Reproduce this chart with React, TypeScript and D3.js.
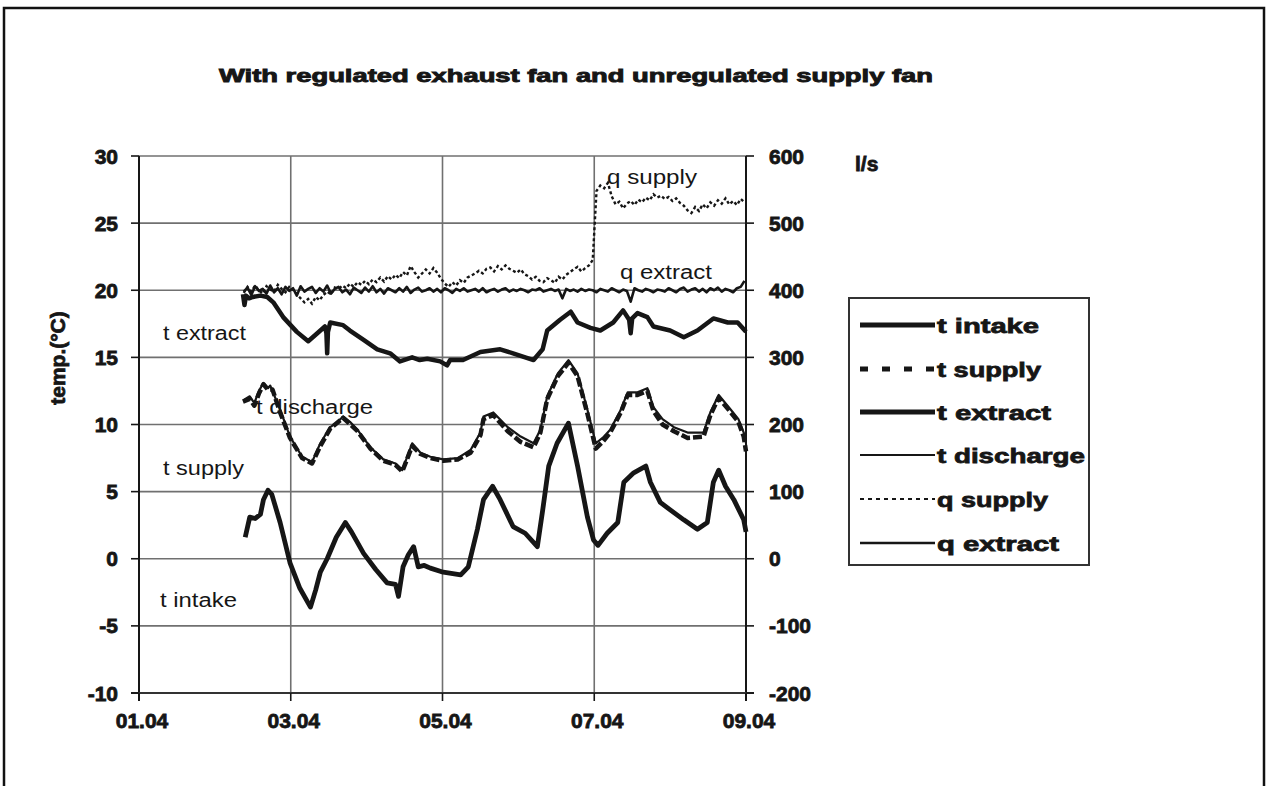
import React from "react";
import * as d3 from "d3";

// ---------- data ----------
const xTickDays = [0, 2, 4, 6, 8];
const xTickLabels = ["01.04", "03.04", "05.04", "07.04", "09.04"];
const leftTicks = [-10, -5, 0, 5, 10, 15, 20, 25, 30];
const rightTicks = [-200, -100, 0, 100, 200, 300, 400, 500, 600];

// [day since 01.04, °C]
const tIntake: [number, number][] = [
  [1.40, 1.6], [1.46, 3.1], [1.53, 3.0], [1.60, 3.3], [1.64, 4.4], [1.70, 5.1], [1.75, 4.8], [1.86, 2.7],
  [1.99, -0.3], [2.12, -2.2], [2.26, -3.6], [2.33, -2.3], [2.39, -1.0], [2.48, 0.0], [2.60, 1.6], [2.72, 2.7],
  [2.80, 2.0], [2.96, 0.4], [3.12, -0.8], [3.27, -1.8], [3.38, -1.9], [3.42, -2.8], [3.48, -0.6], [3.55, 0.3],
  [3.62, 0.9], [3.68, -0.6], [3.76, -0.5], [3.84, -0.7], [4.01, -1.0], [4.24, -1.2], [4.34, -0.6], [4.46, 2.2],
  [4.54, 4.4], [4.66, 5.4], [4.76, 4.4], [4.93, 2.4], [5.09, 1.9], [5.25, 0.9], [5.32, 3.6], [5.40, 6.9],
  [5.51, 8.6], [5.66, 10.1], [5.78, 6.9], [5.91, 3.1], [5.99, 1.4], [6.05, 1.0], [6.17, 1.9], [6.31, 2.7],
  [6.39, 5.7], [6.52, 6.4], [6.68, 6.9], [6.74, 5.7], [6.87, 4.2], [7.01, 3.6], [7.18, 2.9], [7.36, 2.2],
  [7.49, 2.7], [7.57, 5.7], [7.64, 6.6], [7.73, 5.4], [7.84, 4.4], [7.97, 2.9], [8.0, 2.0],
];

const tSupply: [number, number][] = [
  [1.37, 11.7], [1.46, 11.9], [1.52, 11.4], [1.58, 12.3], [1.64, 13.0], [1.70, 12.6], [1.76, 12.6], [1.86, 10.9],
  [1.99, 9.0], [2.15, 7.5], [2.28, 7.1], [2.39, 8.4], [2.52, 9.7], [2.69, 10.5], [2.88, 9.5], [3.05, 8.2],
  [3.22, 7.3], [3.38, 7.0], [3.47, 6.5], [3.60, 8.4], [3.71, 7.8], [3.84, 7.5], [4.01, 7.3], [4.20, 7.4],
  [4.37, 7.9], [4.50, 9.2], [4.54, 10.4], [4.67, 10.7], [4.86, 9.5], [5.03, 8.7], [5.20, 8.3], [5.29, 9.4],
  [5.38, 11.9], [5.52, 13.6], [5.66, 14.6], [5.78, 13.6], [5.91, 10.8], [6.02, 8.2], [6.11, 8.7], [6.21, 9.4],
  [6.35, 10.9], [6.44, 12.2], [6.57, 12.2], [6.70, 12.5], [6.78, 11.0], [6.90, 10.0], [7.05, 9.5], [7.23, 9.0],
  [7.44, 9.1], [7.53, 10.7], [7.64, 12.0], [7.80, 10.9], [7.90, 10.2], [7.97, 9.1], [8.0, 8.0],
];

const tDischarge: [number, number][] = [
  [1.37, 11.8], [1.46, 12.1], [1.52, 11.6], [1.58, 12.5], [1.64, 13.1], [1.70, 12.7], [1.73, 12.9], [1.86, 11.1],
  [1.99, 9.1], [2.15, 7.6], [2.28, 7.2], [2.39, 8.6], [2.52, 9.8], [2.60, 10.1], [2.69, 10.6], [2.78, 10.2],
  [2.88, 9.6], [3.05, 8.3], [3.22, 7.4], [3.38, 7.1], [3.47, 6.6], [3.60, 8.6], [3.71, 7.9], [3.84, 7.6],
  [4.01, 7.4], [4.20, 7.5], [4.37, 8.1], [4.50, 9.4], [4.54, 10.6], [4.67, 10.9], [4.86, 9.8], [5.03, 9.1],
  [5.20, 8.6], [5.29, 9.6], [5.38, 12.1], [5.52, 13.8], [5.66, 14.8], [5.78, 13.8], [5.91, 11.1], [6.02, 8.6],
  [6.11, 9.0], [6.21, 9.6], [6.35, 11.1], [6.44, 12.4], [6.57, 12.4], [6.70, 12.7], [6.78, 11.3], [6.90, 10.4],
  [7.05, 9.8], [7.23, 9.4], [7.44, 9.4], [7.53, 10.9], [7.64, 12.2], [7.80, 11.1], [7.90, 10.4], [7.97, 9.4],
  [8.0, 8.6],
];

const tExtract: [number, number][] = [
  [1.37, 19.7], [1.39, 18.9], [1.41, 19.6], [1.45, 19.4], [1.50, 19.5], [1.60, 19.6], [1.69, 19.5], [1.77, 19.1],
  [1.90, 18.0], [2.08, 16.9], [2.23, 16.2], [2.35, 16.8], [2.45, 17.3], [2.47, 16.8], [2.48, 15.3], [2.49, 16.9],
  [2.52, 17.6], [2.69, 17.4], [2.78, 17.0], [2.96, 16.3], [3.14, 15.6], [3.31, 15.3], [3.44, 14.7], [3.60, 15.0],
  [3.70, 14.8], [3.80, 14.9], [3.97, 14.7], [4.06, 14.4], [4.10, 14.8], [4.27, 14.8], [4.50, 15.4], [4.76, 15.6],
  [4.93, 15.3], [5.20, 14.8], [5.32, 15.6], [5.38, 17.0], [5.55, 17.8], [5.69, 18.4], [5.78, 17.6], [5.95, 17.2],
  [6.08, 17.0], [6.25, 17.6], [6.38, 18.5], [6.46, 17.8], [6.48, 16.8], [6.50, 17.9], [6.57, 18.3], [6.70, 18.0],
  [6.78, 17.3], [7.00, 17.0], [7.18, 16.5], [7.36, 17.0], [7.57, 17.9], [7.76, 17.6], [7.89, 17.6], [8.0, 16.9],
];

// flow series, logged every 0.05 day starting at day 1.38 (l/s)
const Q_START = 1.38;
const Q_STEP = 0.05;
const qExtract = [
  398, 404, 393, 406, 399, 402, 395, 407, 397, 403,
  394, 405, 399, 403, 392, 406, 398, 402, 405, 396,
  403, 398, 407, 395, 402, 405, 397, 401, 394, 404,
  400, 396, 404, 398, 406, 397, 402, 395, 403, 400,
  397, 403, 398, 405, 396, 401, 404, 398, 400, 403,
  398, 402, 397, 403, 400, 396, 402, 399, 403, 398,
  400, 402, 398, 403, 397, 400, 402, 398, 401, 403,
  398, 401, 399, 402, 400, 397, 401, 400, 403, 398,
  400, 402, 399, 401, 388, 402, 399, 401, 398, 402,
  399, 401, 400, 397, 402, 400, 398, 403, 400, 397,
  401, 399, 383, 403, 400, 398, 402, 400, 397, 401,
  400, 398, 403, 400, 397, 402, 404, 398, 401, 403,
  398, 402, 397, 403, 400, 404, 398, 402, 400, 397,
  403, 405, 414,
];
const qSupply = [
  396, 405, 398, 407, 400, 395, 406, 401, 398, 408, 402, 397, 405,
  401, 394, 388, 382, 387, 380, 390, 385, 393, 398, 394, 404,
  402, 407, 403, 410, 405, 412, 408, 414, 409, 416, 412, 419, 413, 421,
  416, 423, 418, 427, 422, 436, 427, 419, 425, 431, 425, 433, 426, 417,
  410, 405, 412, 407, 415, 411, 419, 422,
  425, 429, 425, 432, 434, 428, 436, 431, 437, 432, 429, 426, 431, 424, 421, 416, 420, 414,
  412, 418, 415, 411, 420, 416, 423, 427, 431, 435, 428, 433, 437, 445,
  548, 556, 552, 560, 540, 528, 532, 522, 529, 533,
  527, 535, 531, 538, 534, 543, 538, 541, 536, 539,
  533, 537, 530, 526, 519, 515, 524, 518, 528, 522,
  531, 526, 534, 529, 537, 528, 533, 527, 536, 531,
];

const legendItems = ["t intake", "t supply", "t extract", "t discharge", "q supply", "q extract"];

// ---------- layout ----------
const W = 1268;
const H = 786;
const PL = 139, PR = 746, PT = 156, PB = 693;
const FONT = "'Liberation Sans', Arial, sans-serif";

export default function App() {
  const x = d3.scaleLinear().domain([0, 8]).range([PL, PR]);
  const yL = d3.scaleLinear().domain([-10, 30]).range([PB, PT]);
  const yR = d3.scaleLinear().domain([-200, 600]).range([PB, PT]);

  const lineL = d3.line<[number, number]>().x((d) => x(d[0])).y((d) => yL(d[1]));
  const lineR = d3.line<[number, number]>().x((d) => x(d[0])).y((d) => yR(d[1]));

  const qE: [number, number][] = qExtract.map((v, i) => [Q_START + i * Q_STEP, v]);
  const qS: [number, number][] = qSupply.map((v, i) => [Q_START + i * Q_STEP, v]);

  const grid = "#707070";
  const ink = "#161616";

  const legendStyles = [
    { w: 5, dash: undefined },
    { w: 5, dash: "8,14" },
    { w: 5, dash: undefined },
    { w: 2, dash: undefined },
    { w: 2.2, dash: "4,4" },
    { w: 2.5, dash: undefined },
  ];
  const legendY = [325, 369, 412, 455, 499, 543];
  const legendW = [102, 104, 114, 148, 111, 122];

  return (
    <svg
      width={W}
      height={H}
      style={{ position: "absolute", left: 0, top: 0, background: "#fff" }}
      fontFamily={FONT}
    >
      <rect x={0} y={0} width={W} height={H} fill="#fff" />
      {/* outer frame */}
      <rect x={4} y={8} width={1260} height={800} fill="none" stroke="#111" strokeWidth={2.5} />

      {/* title */}
      <text
        x={219}
        y={82}
        fontSize={19}
        fontWeight="bold"
        fill={ink}
        stroke={ink}
        strokeWidth={0.9}
        textLength={714}
        lengthAdjust="spacingAndGlyphs"
      >
        With regulated exhaust fan and unregulated supply fan
      </text>

      {/* grid */}
      {leftTicks.map((t) => (
        <line key={"h" + t} x1={PL} x2={PR} y1={yL(t)} y2={yL(t)} stroke={grid} strokeWidth={1.6} />
      ))}
      {xTickDays.slice(1, -1).map((d) => (
        <line key={"v" + d} x1={x(d)} x2={x(d)} y1={PT} y2={PB} stroke={grid} strokeWidth={1.6} />
      ))}
      {/* axes */}
      <line x1={PL} x2={PL} y1={PT} y2={PB + 8} stroke={ink} strokeWidth={2} />
      <line x1={PR} x2={PR} y1={PT} y2={PB + 8} stroke={ink} strokeWidth={2} />
      <line x1={PL - 8} x2={PR + 8} y1={PB} y2={PB} stroke="#333" strokeWidth={1.8} />
      {leftTicks.map((t) => (
        <line key={"lt" + t} x1={PL - 8} x2={PL} y1={yL(t)} y2={yL(t)} stroke={ink} strokeWidth={1.6} />
      ))}
      {rightTicks.map((t) => (
        <line key={"rt" + t} x1={PR} x2={PR + 8} y1={yR(t)} y2={yR(t)} stroke={ink} strokeWidth={1.6} />
      ))}
      {xTickDays.map((d) => (
        <line key={"xt" + d} x1={x(d)} x2={x(d)} y1={PB} y2={PB + 8} stroke={ink} strokeWidth={1.6} />
      ))}

      {/* tick labels */}
      <g fontSize={21} fontWeight="bold" fill={ink} stroke={ink} strokeWidth={0.8}>
        {leftTicks.map((t) => (
          <text key={"ll" + t} x={118} y={yL(t) + 7.5} textAnchor="end">
            {t}
          </text>
        ))}
        {rightTicks.map((t) => (
          <text key={"rl" + t} x={769} y={yR(t) + 7.5}>
            {t}
          </text>
        ))}
        {xTickDays.map((d, i) => (
          <text key={"xl" + d} x={x(d) + 3} y={728} textAnchor="middle">
            {xTickLabels[i]}
          </text>
        ))}
        <text x={855} y={171}>l/s</text>
        <text x={0} y={0} transform="translate(65,358) rotate(-90)" textAnchor="middle">
          temp.(°C)
        </text>
      </g>

      {/* series */}
      <path d={lineR(qS) || ""} fill="none" stroke={ink} strokeWidth={2.4} strokeDasharray="3,2.5" />
      <path d={lineR(qE) || ""} fill="none" stroke={ink} strokeWidth={2.6} strokeLinejoin="round" />
      <path d={lineL(tExtract) || ""} fill="none" stroke={ink} strokeWidth={4.5} strokeLinejoin="round" />
      <path d={lineL(tSupply) || ""} fill="none" stroke={ink} strokeWidth={4.5} strokeDasharray="9,3" strokeLinejoin="round" />
      <path d={lineL(tDischarge) || ""} fill="none" stroke={ink} strokeWidth={2.2} strokeLinejoin="round" />
      <path d={lineL(tIntake) || ""} fill="none" stroke={ink} strokeWidth={4.8} strokeLinejoin="round" />

      {/* in-plot labels */}
      <g fontSize={20} fill={ink}>
        <text x={163} y={340} textLength={83} lengthAdjust="spacingAndGlyphs">t extract</text>
        <text x={256} y={414} textLength={117} lengthAdjust="spacingAndGlyphs">t discharge</text>
        <text x={163} y={475} textLength={81} lengthAdjust="spacingAndGlyphs">t supply</text>
        <text x={160} y={607} textLength={77} lengthAdjust="spacingAndGlyphs">t intake</text>
        <text x={607} y={184} textLength={90} lengthAdjust="spacingAndGlyphs">q supply</text>
        <text x={620} y={279} textLength={92} lengthAdjust="spacingAndGlyphs">q extract</text>
      </g>

      {/* legend */}
      <rect x={849} y={298} width={240} height={267} fill="#fff" stroke="#333" strokeWidth={2} />
      {legendItems.map((name, i) => (
        <g key={name}>
          <line
            x1={860}
            x2={935}
            y1={legendY[i]}
            y2={legendY[i]}
            stroke={ink}
            strokeWidth={legendStyles[i].w}
            strokeDasharray={legendStyles[i].dash}
          />
          <text
            x={937}
            y={legendY[i] + 7.5}
            fontSize={21}
            fontWeight="bold"
            fill={ink}
            stroke={ink}
            strokeWidth={0.8}
            textLength={legendW[i]}
            lengthAdjust="spacingAndGlyphs"
          >
            {name}
          </text>
        </g>
      ))}
    </svg>
  );
}
